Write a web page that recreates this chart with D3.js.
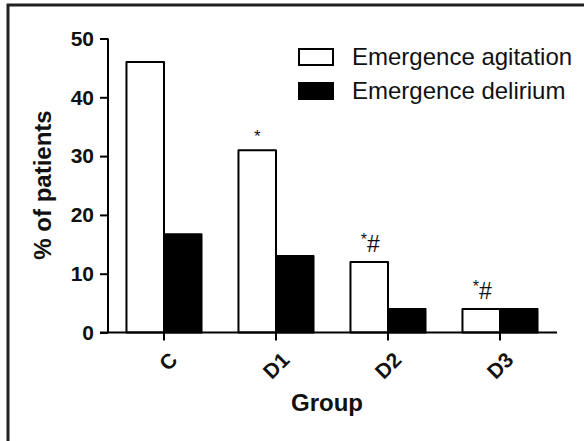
<!DOCTYPE html>
<html>
<head>
<meta charset="utf-8">
<script src="https://cdn.jsdelivr.net/npm/d3@7"></script>
<style>
  body { margin: 0; background: #fff; }
  svg text { font-family: "Liberation Sans", Arial, Helvetica, sans-serif; }
</style>
</head>
<body>
<svg id="vis" width="585" height="441"></svg>
<script>
// data
var groups = ["C", "D1", "D2", "D3"];
var series = ["Emergence agitation", "Emergence delirium"];
var agitation = [46, 31, 12, 4];
var delirium = [16.7, 13, 4, 4];
var marks = ["", "*", "*#", "*#"];
var yTicks = [0, 10, 20, 30, 40, 50];

var svg = d3.select("#vis");

// frame (left + top edges visible)
svg.append("path")
    .attr("d", "M8,441 V5 H584")
    .attr("fill", "none")
    .attr("stroke", "#222")
    .attr("stroke-width", 3);

var x = d3.scaleBand()
    .domain(groups)
    .range([108, 556])
    .paddingInner(0.33)
    .paddingOuter(0.165);

var sub = d3.scaleBand()
    .domain(series)
    .range([0, x.bandwidth()]);

var y = d3.scaleLinear()
    .domain([0, 50])
    .range([332.5, 38.5]);

var fills = ["#fff", "#000"];

var rows = groups.map(function (g, i) {
    return { group: g, values: [agitation[i], delirium[i]], mark: marks[i] };
});

// bars
var g = svg.selectAll("g.grp")
    .data(rows)
    .enter().append("g")
    .attr("class", "grp")
    .attr("transform", function (d) { return "translate(" + x(d.group) + ",0)"; });

g.selectAll("rect")
    .data(function (d) { return d.values.map(function (v, j) { return { s: series[j], v: v, j: j }; }); })
    .enter().append("rect")
    .attr("x", function (d) { return sub(d.s); })
    .attr("y", function (d) { return y(d.v); })
    .attr("width", sub.bandwidth())
    .attr("height", function (d) { return y(0) - y(d.v); })
    .attr("fill", function (d) { return fills[d.j]; })
    .attr("stroke", "#000")
    .attr("stroke-width", 2)
    .attr("stroke-linejoin", "round");

// significance marks above agitation bars
g.filter(function (d) { return d.mark; }).append("text")
    .attr("x", function (d) { return sub(series[0]) + sub.bandwidth() / 2 + (d.mark.length > 1 ? 1 : 0); })
    .attr("y", function (d) { return y(d.values[0]) - (d.mark.length > 1 ? 10 : 8); })
    .attr("text-anchor", "middle")
    .style("font-size", "23px")
    .attr("fill", "#111")
    .each(function (d) {
        var t = d3.select(this);
        if (d.mark.length > 1) {
            t.append("tspan").text("*").style("font-size", "16px").attr("dy", -7);
            t.append("tspan").text("#").attr("dy", 7);
        } else {
            t.append("tspan").text("*").style("font-size", "17px");
        }
    });

// y axis
var yAxis = svg.append("g")
    .attr("transform", "translate(108,0)")
    .call(d3.axisLeft(y).tickValues(yTicks).tickSize(8).tickPadding(6));
yAxis.select(".domain").attr("stroke-width", 2).attr("d", "M0," + y(50) + "V" + y(0));
yAxis.selectAll(".tick line").attr("stroke-width", 2);
yAxis.selectAll(".tick text")
    .style("font-size", "21px")
    .style("font-weight", "bold")
    .attr("fill", "#111");

// x axis
var xAxis = svg.append("g")
    .attr("transform", "translate(0," + y(0) + ")")
    .call(d3.axisBottom(x).tickSize(8).tickSizeOuter(0));
xAxis.select(".domain").attr("stroke-width", 2).attr("d", "M100,0H557");
xAxis.selectAll(".tick line").attr("stroke-width", 2);
xAxis.selectAll(".tick text")
    .style("font-size", "21px")
    .style("font-weight", "bold")
    .attr("fill", "#111")
    .attr("text-anchor", "end")
    .attr("dy", null)
    .attr("transform", "translate(7,21) rotate(-45)");

// axis titles
svg.append("text")
    .attr("transform", "translate(51,185) rotate(-90)")
    .attr("text-anchor", "middle")
    .style("font-size", "24px")
    .style("font-weight", "bold")
    .attr("fill", "#111")
    .text("% of patients");

svg.append("text")
    .attr("x", 327)
    .attr("y", 411)
    .attr("text-anchor", "middle")
    .style("font-size", "24px")
    .style("font-weight", "bold")
    .attr("fill", "#111")
    .text("Group");

// legend
var leg = svg.selectAll("g.leg")
    .data(series)
    .enter().append("g")
    .attr("class", "leg")
    .attr("transform", function (d, i) { return "translate(299," + (49 + i * 34) + ")"; });

leg.append("rect")
    .attr("width", 34)
    .attr("height", 16)
    .attr("fill", function (d, i) { return fills[i]; })
    .attr("stroke", "#000")
    .attr("stroke-width", 2);

leg.append("text")
    .attr("x", 53)
    .attr("y", 16)
    .style("font-size", "24px")
    .attr("fill", "#111")
    .text(function (d) { return d; });
</script>
</body>
</html>
